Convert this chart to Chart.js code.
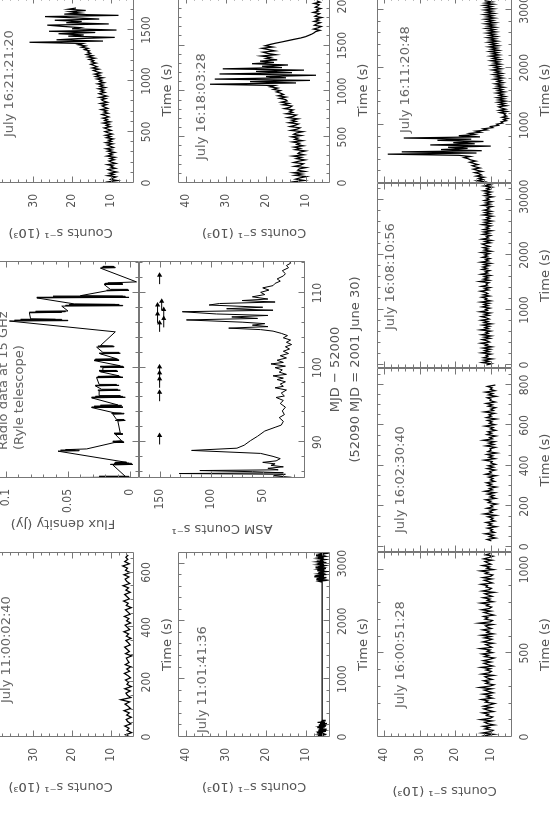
<!DOCTYPE html>
<html>
<head>
<meta charset="utf-8">
<script src="https://cdn.jsdelivr.net/npm/chart.js@4.4.0/dist/chart.umd.min.js"></script>
<style>
  html, body { margin: 0; padding: 0; background: #fff; overflow: hidden; width: 553px; height: 820px; }
  /* the figure is laid out landscape (820 x 553) and turned a quarter turn, like the printed page */
  #fig { position: absolute; left: 0; top: 0; width: 820px; height: 553px;
         transform-origin: 0 0; transform: translate(0, 820px) rotate(-90deg); }
  #fig canvas { position: absolute; }
</style>
</head>
<body>
<div id="fig"></div>
<script>
// ---- light curves (10^3 counts/s), one value per time bin ----
// July 11:00:02:40
const a_t0 = 0, a_dt = 8;
const a_counts = [5.0,6.2,4.6,5.8,5.3,6.4,4.8,5.6,6.0,4.7,5.9,5.2,6.6,4.9,5.5,6.3,5.1,7.4,4.8,5.7,
  6.1,5.0,6.4,4.7,5.8,5.4,6.2,4.9,5.6,6.5,5.1,5.9,4.8,6.3,5.3,5.7,6.0,4.6,6.2,5.2,
  5.8,6.4,5.0,5.5,6.1,4.8,6.0,5.4,6.6,5.1,5.7,6.3,4.9,5.9,5.3,6.5,5.0,5.6,6.2,4.7,
  6.0,5.5,6.7,5.2,5.8,6.4,5.0,6.1,5.4,6.8,5.1,5.9,6.3,5.3,6.6,5.0,6.2,5.7,6.9,5.2,
  6.4,5.6,6.1,5.5];

// July 11:01:41:36 (two stretches with a gap between)
const b1_t0 = 0, b1_dt = 9;
const b1_counts = [6.3,5.1,7.0,5.6,6.6,4.9,6.2,5.4,7.3,5.8,6.5,5.0,6.9,5.5,6.1,4.8,6.7,5.7,7.2,5.3,
  6.4,5.0,6.8,5.6,6.0,4.9,6.5,5.4,7.1,5.7,6.3,5.2,6.0];
const b2_t0 = 2680, b2_dt = 13;
const b2_counts = [6.0,6.8,5.2,7.4,5.6,6.5,4.9,7.9,5.5,6.7,5.1,7.0,5.8,6.3,4.8,7.2,5.4,6.9,5.0,7.6,
  5.7,6.4,5.2,7.1,5.5,6.6,4.9,7.3,5.9,6.2,5.1,7.0,5.6,6.8,5.3,7.5,5.8,6.4,5.0,6.9,5.7];

// July 16:21:21:20
const c_t0 = 0, c_dt = 12;
const c_counts = [9.0,10.6,8.3,10.1,9.5,8.6,10.8,9.2,10.3,8.5,9.9,10.7,8.8,10.0,9.4,10.9,8.7,9.8,10.5,9.1,
  10.2,8.9,11.0,9.6,10.4,9.0,10.8,9.7,11.2,9.3,10.1,10.9,9.5,11.3,9.8,10.6,9.4,11.1,10.0,11.4,9.6,10.7,
  11.5,9.9,10.8,11.7,10.1,11.2,10.4,12.0,10.2,11.6,10.9,12.1,10.5,11.3,12.3,10.7,11.8,11.0,12.5,10.8,
  11.6,12.2,11.1,12.7,10.9,11.9,12.4,11.3,12.9,11.0,12.1,13.0,11.5,12.6,11.8,13.2,11.4,12.8,12.0,13.4,11.7,12.9,
  12.3,13.6,12.0,13.9,12.8,14.2,12.6,13.7,14.5,13.1,14.8,13.5,14.3,15.2,13.8,15.0,14.4,15.6,14.1,15.9,
  14.7,16.3,15.2,16.0,15.5,
  16.8,15.9,17.6,16.5,18.4,17.2,
  31.0,12.0,24.0,18.5,9.0,21.0,17.0,23.5,14.0,26.0,8.5,20.0,18.0,22.5,26.4,10.5,21.5,17.5,24.5,13.0,
  19.5,27.0,8.0,22.0,18.0,20.5,16.5,21.0,19.0];

// July 16:18:03:28
const d_t0 = 0, d_dt = 14;
const d_counts = [11.2,13.0,10.4,12.6,11.5,9.9,12.8,11.0,13.2,10.3,12.1,11.7,10.0,12.9,11.3,10.6,13.1,11.8,10.2,12.4,
  11.1,13.3,10.5,12.0,11.6,10.1,12.7,11.4,13.0,10.7,12.3,
  11.6,13.4,10.9,12.8,12.0,13.6,11.2,13.1,12.4,10.8,13.8,12.2,11.5,14.0,12.7,11.9,14.3,12.5,13.6,12.0,
  14.6,13.1,12.4,15.0,13.3,14.1,
  13.2,15.4,14.0,13.5,15.8,14.3,16.2,14.7,15.1,16.6,15.0,17.0,15.6,16.3,17.4,
  16.4,18.2,17.1,19.0,17.8,
  34.0,12.5,24.0,9.0,32.8,15.0,20.0,7.5,31.6,13.5,22.5,10.5,30.8,16.0,21.0,14.5,23.5,
  18.0,21.5,17.2,20.0,18.8,21.2,17.5,19.6,20.8,17.8,19.4,21.0,18.3,20.2,
  19.0,17.6,16.0,14.5,13.0,11.4,10.2,9.4,8.6,8.0,
  7.6,6.5,8.1,7.0,6.2,7.9,7.3,6.4,8.0,6.8,7.5,6.1,7.8,7.2,6.6,8.2,6.9,7.4,6.3,7.7,7.1,6.7,8.0,6.5,7.3];

// July 16:11:20:48
const e_t0 = 0, e_dt = 20;
const e_counts = [12.8,11.6,13.9,12.2,13.4,11.9,14.1,12.6,13.2,14.5,12.4,13.8,14.9,13.0,14.3,15.2,13.6,14.8,15.9,14.2,15.6,
  16.3,17.5,15.8,19.0,
  39.0,
  14.0,35.0,12.5,24.0,16.5,22.0,10.0,27.0,14.5,20.5,12.0,25.0,15.5,34.5,13.0,
  19.0,14.5,16.0,12.8,14.2,11.0,12.1,9.4,10.0,7.8,8.3,6.6,
  7.1,5.6,6.4,5.2,6.8,5.5,6.2,5.8,
  7.4,5.4,7.6,5.8,7.0,7.8,5.6,7.5,6.0,8.0,5.8,7.8,6.2,8.2,5.9,7.6,6.5,8.4,6.1,8.0,
  6.7,8.6,6.3,8.2,6.9,8.8,6.5,8.1,7.0,9.0,6.6,8.5,7.0,9.2,6.8,8.7,7.4,9.5,7.0,8.9,
  7.5,9.7,7.2,9.1,7.7,9.9,7.4,9.4,7.9,10.1,7.6,9.6,8.0,10.3,7.7,9.8,8.2,10.5,7.9,10.0,
  8.4,10.7,8.1,10.2,8.6,10.9,8.3,10.4,8.8,11.1,8.5,10.6,8.9,11.3,8.6,10.8,9.1,11.5,8.7,11.0,
  9.3,11.6,8.9,11.1,9.4,11.8,9.0,11.2,9.5,11.7,9.1,11.4,9.7,11.9,9.2,11.5,9.6,11.7];

// July 16:08:10:56
const f_t0 = 0, f_dt = 22;
const f_counts = [11.2,9.8,12.4,10.5,11.9,9.6,12.0,10.8,11.3,9.9,12.6,10.4,11.7,10.1,12.2,9.7,11.5,10.9,12.8,10.3,
  11.0,12.4,10.2,11.8,9.9,12.5,10.7,11.4,10.0,12.9,10.6,11.6,10.3,12.3,9.8,11.9,10.8,12.7,10.4,11.2,
  12.6,10.5,11.8,10.1,13.0,10.9,11.5,10.2,12.4,10.7,11.9,10.4,12.8,10.0,11.6,11.1,12.5,10.3,12.1,10.8,
  11.4,12.9,10.6,11.7,10.2,12.6,10.9,11.3,10.5,13.1,10.4,12.0,10.7,11.8,10.1,12.7,10.8,11.5,10.3,12.4,
  11.0,12.2,10.5,11.9,10.0,12.8,10.6,11.4,10.2,12.3,10.9,11.7,10.4,12.6,9.9,11.8,10.7,12.1,10.3,11.5,
  12.4,10.1,11.6,9.8,12.5,10.6,11.2,10.0,12.2,10.4,11.9,9.7,12.0,10.5,11.3,9.9,12.3,10.2,11.7,9.6,
  11.8,10.3,11.1,9.5,12.1,10.0,11.6,9.8,11.9,10.4,11.0,9.6,12.2,10.1,11.4,9.7,11.8,10.5,11.2,9.4,
  11.7,10.2,11.5,9.9,12.0,10.3,11.1,9.6,11.9,10.0,11.4];

// July 16:02:30:40
const g_t0 = 30, g_dt = 7;
const g_counts = [9.8,11.0,8.6,10.4,9.2,11.6,8.9,10.1,9.5,10.9,8.4,10.6,9.7,11.3,8.8,10.0,9.3,10.8,8.5,11.9,
  9.6,10.3,8.7,11.1,9.4,10.0,8.3,10.7,9.9,11.4,8.6,10.2,9.1,10.9,8.8,11.7,9.5,10.4,8.4,10.8,
  9.7,11.2,8.9,10.1,9.3,10.6,8.5,11.5,9.8,10.3,8.7,11.0,9.2,10.7,8.6,10.0,9.6,11.8,8.8,10.5,
  9.4,11.1,8.3,10.8,9.9,10.2,8.7,11.4,9.1,10.6,8.9,12.1,9.5,10.3,8.5,11.0,9.7,10.8,8.6,10.1,
  9.3,11.6,8.8,10.4,9.6,10.9,8.4,11.2,9.8,10.5,8.9,11.8,9.2,10.0,8.6,10.7,9.5,11.3,8.7,10.2,
  9.9,11.0,8.5,10.6,9.4,11.5,8.8,10.1,9.6,10.9,8.7];

// July 16:00:51:28
const h_t0 = 0, h_dt = 8;
const h_counts = [10.2,11.8,9.1,12.4,10.0,9.3,11.6,10.4,12.1,9.0,10.9,11.7,9.6,12.8,10.1,9.4,11.2,10.6,12.3,9.2,
  10.7,11.9,9.8,12.0,10.3,8.9,11.5,10.8,12.6,9.5,11.1,10.0,12.2,9.3,10.6,11.8,9.7,13.1,10.2,9.1,
  11.4,10.5,12.0,9.6,10.9,11.6,9.2,12.5,10.4,9.8,11.3,10.1,12.7,9.4,10.8,11.9,9.9,12.1,10.3,9.0,
  11.7,10.6,12.4,9.5,11.0,10.2,12.9,9.7,10.5,11.4,9.3,12.2,10.7,9.6,11.8,10.0,12.6,9.2,11.1,10.4,
  12.3,9.8,10.9,11.5,9.4,13.3,10.1,9.5,11.6,10.8,12.0,9.1,10.6,11.9,9.9,12.5,10.3,9.7,11.2,10.5,
  12.8,9.3,11.0,10.2,12.1,9.6,10.7,11.7,9.0,12.4,10.4,9.8,11.3,10.9,12.7,9.5,10.6,11.8,9.7,12.2,
  10.0,9.4,11.5,10.7,12.9,9.2,11.1,10.3,12.3,9.9,10.8,11.6,9.6,12.0,10.5,9.3,11.4,10.1];

// ---- Ryle telescope 15 GHz flux density [MJD-52000, Jy] ----
const radio = [[85.2,0.039],[85.25,0.003],[85.3,0.033],[85.35,0.001],[85.4,0.025],[85.45,0.004],
  [86.95,0.014],[87.0,-0.002],[87.05,0.016],[87.1,-0.001],[87.15,0.013],[87.2,0.001],[87.25,0.012],[87.3,0.003],
  [88.8,0.058],[88.85,0.041],[88.9,0.056],[88.95,0.044],[89.0,0.052],[89.1,0.035],
  [89.95,0.013],[90.0,0.005],[90.05,0.014],[90.1,0.006],[90.15,0.012],[90.2,0.007],
  [91.05,0.012],[91.1,0.006],[91.15,0.013],[91.2,0.008],
  [92.85,0.010],[92.9,0.004],[92.95,0.012],[93.0,0.005],[93.05,0.011],
  [93.75,0.014],[93.8,0.005],[93.85,0.015],[93.9,0.007],[93.95,0.013],
  [94.65,0.031],[94.7,0.006],[94.75,0.029],[94.8,0.008],[94.85,0.027],[94.9,0.007],[94.95,0.024],[95.0,0.010],
  [95.95,0.031],[96.0,0.004],[96.05,0.030],[96.1,0.006],[96.15,0.028],[96.2,0.008],[96.25,0.025],
  [96.9,0.025],[96.95,0.008],[97.0,0.026],[97.05,0.010],[97.1,0.023],
  [97.55,0.028],[97.6,0.009],[97.65,0.027],[97.7,0.011],[97.75,0.025],
  [98.65,0.027],[98.7,0.006],[98.75,0.026],[98.8,0.008],[98.85,0.024],[98.9,0.009],
  [99.45,0.024],[99.5,0.010],[99.55,0.025],[99.6,0.011],[99.65,0.022],
  [100.0,0.022],[100.05,0.005],[100.1,0.024],[100.15,0.006],[100.2,0.021],[100.25,0.008],
  [100.95,0.029],[101.0,0.009],[101.05,0.028],[101.1,0.010],[101.15,0.026],[101.2,0.011],
  [101.85,0.024],[101.9,0.008],[101.95,0.025],[102.0,0.009],[102.05,0.022],
  [102.75,0.027],[102.8,0.013],[102.85,0.026],[102.9,0.014],[102.95,0.024],
  [104.8,0.012],
  [106.25,0.097],[106.3,0.050],[106.35,0.093],[106.4,0.055],[106.45,0.088],[106.5,0.060],[106.55,0.080],
  [107.35,0.081],[107.4,0.055],[107.45,0.079],[107.5,0.052],[107.55,0.076],[107.6,0.050],
  [108.25,0.055],[108.3,0.006],[108.35,0.052],[108.4,0.009],[108.45,0.049],[108.5,0.012],[108.55,0.045],
  [109.35,0.075],[109.4,0.001],[109.45,0.070],[109.5,0.004],[109.55,0.062],[109.6,0.006],[109.65,0.040],
  [110.3,0.019],[110.35,0.001],[110.4,0.018],[110.45,0.002],[110.5,0.016],
  [111.15,0.021],[111.2,0.006],[111.25,0.020],[111.3,0.007],[111.35,0.018],
  [111.5,-0.005],
  [113.35,0.024],[113.4,0.012],[113.45,0.023],[113.5,0.013],[113.55,0.022],[113.6,0.014]];

// ---- RXTE ASM rate [MJD-52000, counts/s] ----
const asm = [[85.3,22],[85.5,40],[85.7,28],[85.8,131],[85.9,30],[86.05,60],[86.2,111],[86.3,35],[86.5,45],[86.7,30],
  [86.9,42],[87.1,38],[87.3,50],[87.5,37],[87.8,33],[88.1,40],[88.5,52],[88.9,119],[89.2,75],[89.6,68],
  [90.2,62],[90.8,55],[91.5,48],[92.0,38],[92.3,32],[92.8,30],[93.3,34],[93.7,29],[94.2,31],[94.7,28],
  [95.2,33],[95.6,30],[96.0,37],[96.2,29],[96.6,32],[97.0,27],[97.3,38],[97.5,30],[97.8,33],[98.1,28],
  [98.4,36],[98.6,30],[98.9,40],[99.1,27],[99.4,34],[99.7,31],[100.0,38],[100.2,28],[100.5,42],[100.7,30],
  [101.0,36],[101.3,27],[101.6,33],[101.9,25],[102.2,30],[102.5,24],[102.8,28],[103.1,22],[103.4,27],[103.7,23],
  [104.0,30],[104.3,26],[104.6,32],[104.9,40],[105.1,52],[105.3,83],[105.5,45],[105.7,60],[105.9,48],[106.1,70],
  [106.4,124],[106.6,55],[106.8,80],[107.0,45],[107.2,95],[107.5,128],[107.7,40],[107.9,85],[108.1,50],[108.4,102],
  [108.6,92],[108.8,38],[109.0,70],[109.2,45],[109.5,60],[109.8,48],[110.1,52],[110.4,44],[110.7,50],[111.0,40],
  [111.3,38],[111.6,33],[111.9,36],[112.3,30],[112.6,28],[113.0,31],[113.4,25],[113.7,27],[114.0,23],[114.3,24]];

// pointed-observation markers in the ASM panel
const arrowMjd   = [90.9, 96.7, 98.5, 99.3, 100.1, 106.0, 106.6, 107.2, 107.8, 108.4, 108.9, 112.4];
const arrowLevel = [150, 150, 150, 150, 150, 150, 146, 152, 146, 152, 148, 150];
const arrowLen = 1.2;

// ---- drawing ----
const fig = document.getElementById('fig');
const INK = '#555';
const TICK_FONT = { family: "'Liberation Sans Narrow', 'DejaVu Sans Condensed', 'Liberation Sans', sans-serif", size: 12 };
const TITLE_FONT = { family: "'DejaVu Sans', sans-serif", size: 13 };
const COUNTS_TITLE = 'Counts s\u207B\u00B9 (10\u00B3)';

const curve = (t0, dt, vals) => vals.map((v, i) => ({ x: t0 + i * dt, y: v }));
const pairs = list => list.map(p => ({ x: p[0], y: p[1] }));
const trace = (data, w) => ({ data, borderColor: '#000', borderWidth: w || 1, pointRadius: 0, tension: 0, fill: false });
const every = (m, fmt) => v => Math.abs(v / m - Math.round(v / m)) < 1e-6 ? (fmt ? fmt(v) : String(Math.round(v))) : '';
const LC_WIDTH = 1.25;   // light curves are drawn a touch heavier so the noise reads as a band

// tick marks every `step` between the axis limits (Chart.js would otherwise drop ticks near the ends)
function stepTicks(scale, step) {
  const out = [];
  for (let k = Math.ceil(scale.min / step - 1e-9); k * step <= scale.max + 1e-9; k++) {
    out.push({ value: +(k * step).toFixed(6) });
  }
  scale.ticks = out;
}

// PGPLOT-like frame: box with inward ticks on all four sides
const boxTicks = {
  id: 'boxTicks',
  afterDatasetsDraw(chart) {
    const { ctx, chartArea: a, scales: { x, y } } = chart;
    const L = Math.round(a.left) + 0.5, R = Math.round(a.right) - 0.5;
    const T = Math.round(a.top) + 0.5, B = Math.round(a.bottom) - 0.5;
    ctx.save();
    ctx.strokeStyle = '#777';
    ctx.lineWidth = 1;
    ctx.beginPath();
    ctx.rect(L, T, R - L, B - T);
    x.ticks.forEach(t => {
      if (t.value <= x.min || t.value >= x.max) return;
      const p = Math.round(x.getPixelForValue(t.value)) + 0.5;
      const n = t.label ? 6 : 3;
      ctx.moveTo(p, B); ctx.lineTo(p, B - n);
      ctx.moveTo(p, T); ctx.lineTo(p, T + n);
    });
    y.ticks.forEach(t => {
      if (t.value <= y.min || t.value >= y.max) return;
      const p = Math.round(y.getPixelForValue(t.value)) + 0.5;
      const n = t.label ? 6 : 3;
      ctx.moveTo(L, p); ctx.lineTo(L + n, p);
      ctx.moveTo(R, p); ctx.lineTo(R - n, p);
    });
    ctx.stroke();
    ctx.restore();
  }
};

const panelText = {
  id: 'panelText',
  afterDraw(chart, args, opts) {
    if (!opts.lines || !opts.lines.length) return;
    const { ctx, chartArea: a } = chart;
    ctx.save();
    ctx.fillStyle = '#666';
    ctx.font = "13px 'DejaVu Sans', sans-serif";
    ctx.textBaseline = 'middle';
    ctx.textAlign = 'left';
    opts.lines.forEach(l => ctx.fillText(l.text, a.left + l.dx, a.top + l.dy));
    ctx.restore();
  }
};

function panel(p) {
  const yW = p.yTitle ? p.yW : 0;
  const xH = p.xTitle ? p.xH : 0;
  const padL = p.yTitle ? p.yW : 10, padB = p.xTitle ? p.xH : 10;
  const padT = 12, padR = 14;
  const c = document.createElement('canvas');
  c.width = p.box.w + padL + padR;
  c.height = p.box.h + padT + padB;
  c.style.left = (p.box.x - padL) + 'px';
  c.style.top = (p.box.y - padT) + 'px';
  fig.appendChild(c);
  const titleFont = Object.assign({}, TITLE_FONT, p.titleLine ? { lineHeight: p.titleLine } : {});
  new Chart(c, {
    type: 'line',
    data: { datasets: p.datasets },
    options: {
      responsive: false,
      animation: false,
      events: [],
      layout: { padding: { left: padL - yW, top: padT, right: padR, bottom: padB - xH } },
      plugins: { legend: { display: false }, tooltip: { enabled: false }, panelText: { lines: p.text || [] } },
      scales: {
        x: {
          type: 'linear', min: p.x[0], max: p.x[1],
          grid: { display: false, drawTicks: false }, border: { display: false },
          ticks: { display: !!p.xTitle, autoSkip: false, maxRotation: 0, minRotation: 0,
                   padding: 6, color: INK, font: TICK_FONT, callback: every(p.x[3], p.xFmt) },
          title: { display: !!p.xTitle, text: p.xTitle, color: INK, font: titleFont, padding: 0 },
          afterBuildTicks: s => stepTicks(s, p.x[2]),
          afterFit: s => { s.height = xH; s.paddingLeft = 0; s.paddingRight = 0; }
        },
        y: {
          type: 'linear', min: p.y[0], max: p.y[1],
          grid: { display: false, drawTicks: false }, border: { display: false },
          ticks: { display: !!p.yTitle, autoSkip: false, padding: 11,
                   color: INK, font: TICK_FONT, callback: every(p.y[3], p.yFmt) },
          title: { display: !!p.yTitle, text: p.yTitle, color: INK, font: TITLE_FONT, padding: 0 },
          afterBuildTicks: s => stepTicks(s, p.y[2]),
          afterFit: s => { s.width = yW; s.paddingTop = 0; s.paddingBottom = 0; }
        }
      }
    },
    plugins: [boxTicks, panelText]
  });
}

const COUNTS = [4, 42, 2, 10];
const label = (text, dx, dy) => [{ text, dx, dy }];

// top row of the landscape figure
panel({ box: { x: 83, y: -13, w: 185, h: 147 }, x: [0, 675, 50, 200], y: COUNTS,
  xTitle: 'Time (s)', xH: 41, yTitle: COUNTS_TITLE, yW: 57,
  text: label('July 11:00:02:40', 34, 20), datasets: [trace(curve(a_t0, a_dt, a_counts), LC_WIDTH)] });

panel({ box: { x: 342, y: -13, w: 217, h: 152 }, x: [85.2, 114.3, 2, 10], y: [-0.007, 0.115, 0.01, 0.05],
  yFmt: v => String(+v.toFixed(2)), yTitle: 'Flux density (Jy)', yW: 53,
  text: [{ text: 'Radio data at 15 GHz', dx: 28, dy: 17 }, { text: '(Ryle telescope)', dx: 28, dy: 33 }],
  datasets: [trace(pairs(radio))] });

panel({ box: { x: 637, y: -13, w: 186, h: 147 }, x: [0, 1824, 100, 500], y: COUNTS,
  xTitle: 'Time (s)', xH: 41, yTitle: COUNTS_TITLE, yW: 57,
  text: label('July 16:21:21:20', 46, 23), datasets: [trace(curve(c_t0, c_dt, c_counts), LC_WIDTH)] });

// middle row
panel({ box: { x: 83, y: 178, w: 185, h: 152 }, x: [0, 3200, 200, 1000], y: COUNTS,
  xTitle: 'Time (s)', xH: 41, yTitle: COUNTS_TITLE, yW: 57,
  text: label('July 11:01:41:36', 4, 25),
  datasets: [trace(curve(b1_t0, b1_dt, b1_counts).concat(curve(b2_t0, b2_dt, b2_counts)), LC_WIDTH)] });

const arrowShafts = [];
arrowMjd.forEach((m, i) => {
  arrowShafts.push({ x: m - arrowLen, y: arrowLevel[i] }, { x: m, y: arrowLevel[i] }, { x: m, y: null });
});
panel({ box: { x: 342, y: 139, w: 217, h: 166 }, x: [85.2, 114.3, 2, 10], y: [9, 170, 10, 50],
  xTitle: ['MJD \u2212 52000', '(52090 MJD = 2001 June 30)'], xH: 61, titleLine: 1.55,
  yTitle: 'ASM Counts s\u207B\u00B9', yW: 58,
  datasets: [
    trace(pairs(asm)),
    Object.assign(trace(arrowShafts), { spanGaps: false }),
    { data: arrowMjd.map((m, i) => ({ x: m, y: arrowLevel[i] })), showLine: false, pointStyle: 'triangle',
      pointRadius: 3, pointRotation: 90, pointBackgroundColor: '#000', pointBorderColor: '#000', pointBorderWidth: 0 }
  ] });

panel({ box: { x: 637, y: 178, w: 186, h: 152 }, x: [0, 2030, 100, 500], y: COUNTS,
  xTitle: 'Time (s)', xH: 41, yTitle: COUNTS_TITLE, yW: 57,
  text: label('July 16:18:03:28', 23, 24), datasets: [trace(curve(d_t0, d_dt, d_counts), LC_WIDTH)] });

// bottom row: four panels sharing edges
panel({ box: { x: 83, y: 377, w: 185, h: 135 }, x: [0, 1105, 100, 500], y: COUNTS,
  xTitle: 'Time (s)', xH: 41, yTitle: COUNTS_TITLE, yW: 61,
  text: label('July 16:00:51:28', 29, 24), datasets: [trace(curve(h_t0, h_dt, h_counts), LC_WIDTH)] });

panel({ box: { x: 268, y: 377, w: 184, h: 135 }, x: [-25, 884, 50, 200], y: COUNTS,
  xTitle: 'Time (s)', xH: 41,
  text: label('July 16:02:30:40', 19, 24), datasets: [trace(curve(g_t0, g_dt, g_counts), LC_WIDTH)] });

panel({ box: { x: 452, y: 377, w: 185, h: 135 }, x: [-55, 3310, 200, 1000], y: COUNTS,
  xTitle: 'Time (s)', xH: 41,
  text: label('July 16:08:10:56', 38, 14), datasets: [trace(curve(f_t0, f_dt, f_counts), LC_WIDTH)] });

panel({ box: { x: 637, y: 377, w: 186, h: 135 }, x: [0, 3225, 200, 1000], y: COUNTS,
  xTitle: 'Time (s)', xH: 41,
  text: label('July 16:11:20:48', 50, 29), datasets: [trace(curve(e_t0, e_dt, e_counts), LC_WIDTH)] });
</script>
</body>
</html>
